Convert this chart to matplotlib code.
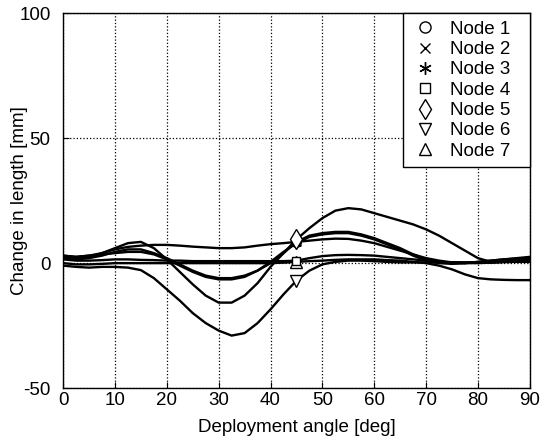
import numpy as np
import matplotlib
matplotlib.use("Agg")
import matplotlib.pyplot as plt
from matplotlib.lines import Line2D

plt.rcParams['font.family'] = ['Liberation Sans', 'DejaVu Sans']
plt.rcParams['axes.unicode_minus'] = False

# deployment angle [deg], 2.5 deg steps
angle = np.arange(0, 90.01, 2.5)

# change in length [mm] per node
node1 = [3.0, 2.5, 3.0, 4.0, 5.5, 6.5, 7.0, 7.3, 7.3, 7.0, 6.6, 6.3, 6.0, 6.0, 6.3, 7.0, 7.6, 8.0, 8.5,
         9.0, 9.5, 9.8, 9.7, 9.0, 8.0, 6.5, 5.0, 3.5, 2.0, 1.0, 0.3, 0.0, 0.0, 0.2, 0.6, 1.0, 1.5]
node2 = [2.0, 1.5, 2.0, 3.0, 4.5, 5.5, 5.5, 4.0, 2.0, -0.5, -3.0, -5.0, -6.0, -6.0, -5.0, -3.0, 0.0, 4.0, 8.5,
         11.0, 12.0, 12.5, 12.5, 11.5, 10.0, 8.0, 6.0, 3.5, 1.5, 0.5, 0.0, 0.0, 0.5, 1.0, 1.5, 1.8, 2.0]
node3 = [3.0, 2.5, 3.0, 3.5, 4.0, 4.5, 4.5, 3.5, 1.5, -1.0, -3.5, -5.5, -6.5, -6.5, -5.5, -3.0, 0.5, 4.5, 8.0,
         10.5, 11.5, 12.0, 12.0, 11.0, 9.5, 7.5, 5.5, 3.0, 1.0, 0.0, -0.3, 0.0, 0.5, 1.0, 1.5, 2.0, 2.5]
node4 = [1.5, 1.0, 1.0, 1.2, 1.5, 1.5, 1.3, 1.2, 1.0, 1.0, 0.8, 0.8, 0.8, 0.8, 0.8, 0.8, 0.8, 0.8, 1.0,
         2.0, 2.8, 3.2, 3.3, 3.2, 3.0, 2.5, 2.0, 1.5, 1.0, 0.5, 0.3, 0.2, 0.2, 0.3, 0.5, 1.0, 1.5]
node5 = [2.5, 2.0, 2.5, 4.0, 6.0, 8.0, 8.5, 6.0, 1.5, -3.5, -8.5, -13.0, -15.8, -15.8, -13.0, -8.0, -1.5, 4.0, 9.5,
         14.0, 18.0, 21.0, 22.0, 21.5, 20.0, 18.5, 17.0, 15.5, 13.5, 11.0, 8.0, 5.0, 2.0, 0.5, 0.5, 1.0, 1.5]
node6 = [-1.0, -1.5, -1.8, -1.5, -1.5, -1.8, -2.8, -6.0, -10.5, -15.0, -20.0, -24.0, -27.0, -29.0, -28.0, -24.0, -18.5, -12.5, -7.0,
         -3.0, -0.5, 0.5, 1.0, 1.0, 0.8, 0.5, 0.3, 0.3, 0.3, 0.3, 0.3, 0.3, 0.3, 0.3, 0.4, 0.5, 0.5]
node7 = [0.0, -0.5, -0.5, -0.3, 0.0, 0.0, 0.0, 0.0, 0.0, 0.0, 0.0, 0.0, 0.0, 0.0, 0.0, 0.0, 0.0, 0.2, 0.5,
         0.8, 1.0, 1.3, 1.5, 1.5, 1.5, 1.2, 1.0, 0.5, 0.0, -1.0, -2.5, -4.5, -6.0, -6.5, -6.7, -6.8, -6.8]

nodes = [node1, node2, node3, node4, node5, node6, node7]
labels = ['Node 1', 'Node 2', 'Node 3', 'Node 4', 'Node 5', 'Node 6', 'Node 7']
markers = ['o', 'x', (6, 2, 0), 's', 'd', 'v', '^']
marker_sizes = [7, 6, 8, 6, 10, 8, 8]
legend_sizes = [8, 7, 9, 7, 10, 8, 8]
zorders = [2, 2, 2, 3, 2, 2, 2]
mark_idx = [18]  # markers at 45 deg

fig = plt.figure(figsize=(5.49, 4.41), dpi=100)
ax = fig.add_axes([0.115, 0.12, 0.85, 0.85])

for vals, m, ms, z in zip(nodes, markers, marker_sizes, zorders):
    ax.plot(angle, vals, '-', color='black', lw=1.7, marker=m, ms=ms, zorder=z,
            markevery=mark_idx, mfc='white', mec='black', mew=1.0)

ax.set_xlim(0, 90)
ax.set_ylim(-50, 100)
ax.set_xticks(np.arange(0, 91, 10))
ax.set_yticks([-50, 0, 50, 100])
ax.grid(True, linestyle=':', color='black', lw=0.9)
ax.tick_params(direction='in', length=4, labelsize=13.5)
ax.tick_params(axis='x', pad=3)
ax.tick_params(axis='y', pad=9)
for s in ax.spines.values():
    s.set_linewidth(1.0)
ax.set_xlabel('Deployment angle [deg]', fontsize=13.5, labelpad=7)
ax.set_ylabel('Change in length [mm]', fontsize=13.5, labelpad=-6)

handles = [Line2D([], [], linestyle='none', marker=m, ms=ms, mfc='white',
                  mec='black', color='black', mew=1.0)
           for m, ms in zip(markers, legend_sizes)]
leg = ax.legend(handles, labels, loc='upper right', bbox_to_anchor=(0.728, 0.0, 0.272, 1.0),
                mode='expand', borderaxespad=0, fancybox=False,
                edgecolor='black', framealpha=1, fontsize=13.5, handlelength=1.6,
                handletextpad=0.5, labelspacing=0.17, borderpad=0.4)
leg.get_frame().set_linewidth(1.0)
leg.set_zorder(5)

fig.savefig('out.png', dpi=100)
